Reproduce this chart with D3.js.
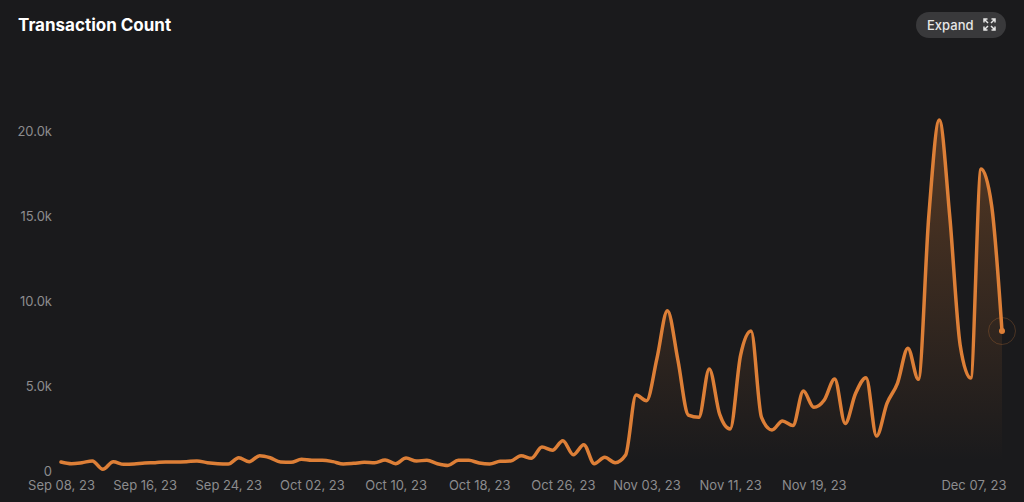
<!DOCTYPE html>
<html>
<head>
<meta charset="utf-8">
<script src="https://cdn.jsdelivr.net/npm/d3@7"></script>
<style>
  html, body { margin: 0; padding: 0; background: #1a1a1c; overflow: hidden; }
  text { font-family: Inter, "Noto Sans", sans-serif; }
  .domain { display: none; }
  .tick line { display: none; }
  .tick text { fill: #8c8c8e; font-size: 13px; font-family: Inter, "Noto Sans", sans-serif; }
</style>
</head>
<body>
<div id="chart"></div>
<script>
// daily transaction count, starting Sep 08, 23
var startDate = '2023-09-08';
var txCount = [
    530, 430, 490, 590, 100, 550, 390, 410, 470, 490,
    530, 530, 550, 590, 490, 430, 410, 780, 550, 900,
    780, 530, 510, 690, 630, 630, 550, 410, 450, 510,
    490, 650, 430, 760, 590, 630, 430, 330, 630, 630,
    470, 410, 570, 590, 900, 745, 1410, 1215, 1780, 960,
    1550, 430, 805, 490, 940, 4470, 4135, 6630, 9430, 6530,
    3290, 3155, 6000, 3330, 2470, 6820, 8235, 3155, 2410, 2940,
    2670, 4700, 3745, 4180, 5410, 2800, 4570, 5490, 2060, 3980,
    5160, 7220, 5390, 15000, 20650, 15000, 7400, 5470, 17760, 15650,
    8235
];
var xTickLabels = ['Sep 08, 23', 'Sep 16, 23', 'Sep 24, 23', 'Oct 02, 23', 'Oct 10, 23',
    'Oct 18, 23', 'Oct 26, 23', 'Nov 03, 23', 'Nov 11, 23', 'Nov 19, 23', 'Dec 07, 23'];
var yTicks = [0, 5000, 10000, 15000, 20000];
var title = 'Transaction Count';

var w = 1024;
var h = 502;

var parseIso = d3.utcParse('%Y-%m-%d');
var parseLabel = d3.utcParse('%b %d, %y');
var formatLabel = d3.utcFormat('%b %d, %y');

var dates = txCount.map((d, i) => d3.utcDay.offset(parseIso(startDate), i));
var data = txCount.map((d, i) => ({ date: dates[i], value: d }));

var x = d3.scaleUtc()
    .domain(d3.extent(dates))
    .range([61, 1002]);

// 0 sits at y=471, 20k at y=131
var y = d3.scaleLinear()
    .domain([0, 20000])
    .range([471, 131]);

var svg = d3.select('#chart')
    .append('svg')
    .attr('width', w)
    .attr('height', h)
    .style('display', 'block');

svg.append('rect')
    .attr('width', w)
    .attr('height', h)
    .attr('fill', '#1a1a1c');

var grad = svg.append('defs').append('linearGradient')
    .attr('id', 'fade')
    .attr('gradientUnits', 'userSpaceOnUse')
    .attr('x1', 0).attr('x2', 0)
    .attr('y1', y(d3.max(txCount))).attr('y2', 461);
grad.append('stop').attr('offset', '0%').attr('stop-color', '#e08035').attr('stop-opacity', 0.3);
grad.append('stop').attr('offset', '100%').attr('stop-color', '#e08035').attr('stop-opacity', 0);

var area = d3.area()
    .x(d => x(d.date))
    .y0(y(0))
    .y1(d => y(d.value))
    .curve(d3.curveMonotoneX);

var line = d3.line()
    .x(d => x(d.date))
    .y(d => y(d.value))
    .curve(d3.curveMonotoneX);

svg.append('path')
    .datum(data)
    .attr('d', area)
    .attr('fill', 'url(#fade)');

svg.append('path')
    .datum(data)
    .attr('d', line)
    .attr('fill', 'none')
    .attr('stroke', '#dd7f37')
    .attr('stroke-width', 3.5)
    .attr('stroke-linejoin', 'round')
    .attr('stroke-linecap', 'round');

// end marker
var last = data[data.length - 1];
svg.append('circle')
    .attr('cx', x(last.date))
    .attr('cy', y(last.value))
    .attr('r', 13.5)
    .attr('fill', 'none')
    .attr('stroke', '#dd7f37')
    .attr('stroke-opacity', 0.25);
svg.append('circle')
    .attr('cx', x(last.date))
    .attr('cy', y(last.value))
    .attr('r', 3)
    .attr('fill', '#dd7f37');

// y axis
var yAxis = d3.axisLeft(y)
    .tickValues(yTicks)
    .tickSize(0)
    .tickPadding(0)
    .tickFormat(d => d === 0 ? '0' : (d / 1000).toFixed(1) + 'k');
svg.append('g')
    .attr('transform', 'translate(52,0)')
    .call(yAxis);

// x axis, the last label is pulled in so it stays on the card
var xAxis = d3.axisBottom(x)
    .tickValues(xTickLabels.map(parseLabel))
    .tickSize(0)
    .tickPadding(0)
    .tickFormat(formatLabel);
var xg = svg.append('g')
    .attr('transform', 'translate(0,480.5)')
    .call(xAxis);
xg.selectAll('.tick text')
    .attr('text-anchor', d => +d === +last.date ? 'end' : 'middle')
    .attr('dx', d => +d === +last.date ? 4 : 0);

svg.append('text')
    .attr('x', 18)
    .attr('y', 30.5)
    .attr('fill', '#ffffff')
    .attr('font-size', 17)
    .attr('font-weight', 700)
    .text(title);

// Expand button
var btn = svg.append('g');
btn.append('rect')
    .attr('x', 916).attr('y', 12)
    .attr('width', 90).attr('height', 26)
    .attr('rx', 13)
    .attr('fill', '#39393b');
btn.append('text')
    .attr('x', 927).attr('y', 29.5)
    .attr('fill', '#e6e6e6')
    .attr('font-size', 13)
    .attr('font-weight', 500)
    .text('Expand');
// four little corner arrows
var cx = 989.5, cy = 24.5;
[[-1, -1], [1, -1], [-1, 1], [1, 1]].forEach(s => {
    btn.append('path')
        .attr('d', 'M' + (cx + s[0] * 5.5) + ',' + (cy + s[1] * 2)
            + 'V' + (cy + s[1] * 5.5) + 'H' + (cx + s[0] * 2)
            + 'M' + (cx + s[0] * 5.5) + ',' + (cy + s[1] * 5.5)
            + 'L' + (cx + s[0] * 1.5) + ',' + (cy + s[1] * 1.5))
        .attr('fill', 'none')
        .attr('stroke', '#e6e6e6')
        .attr('stroke-width', 1.5);
});
</script>
</body>
</html>
